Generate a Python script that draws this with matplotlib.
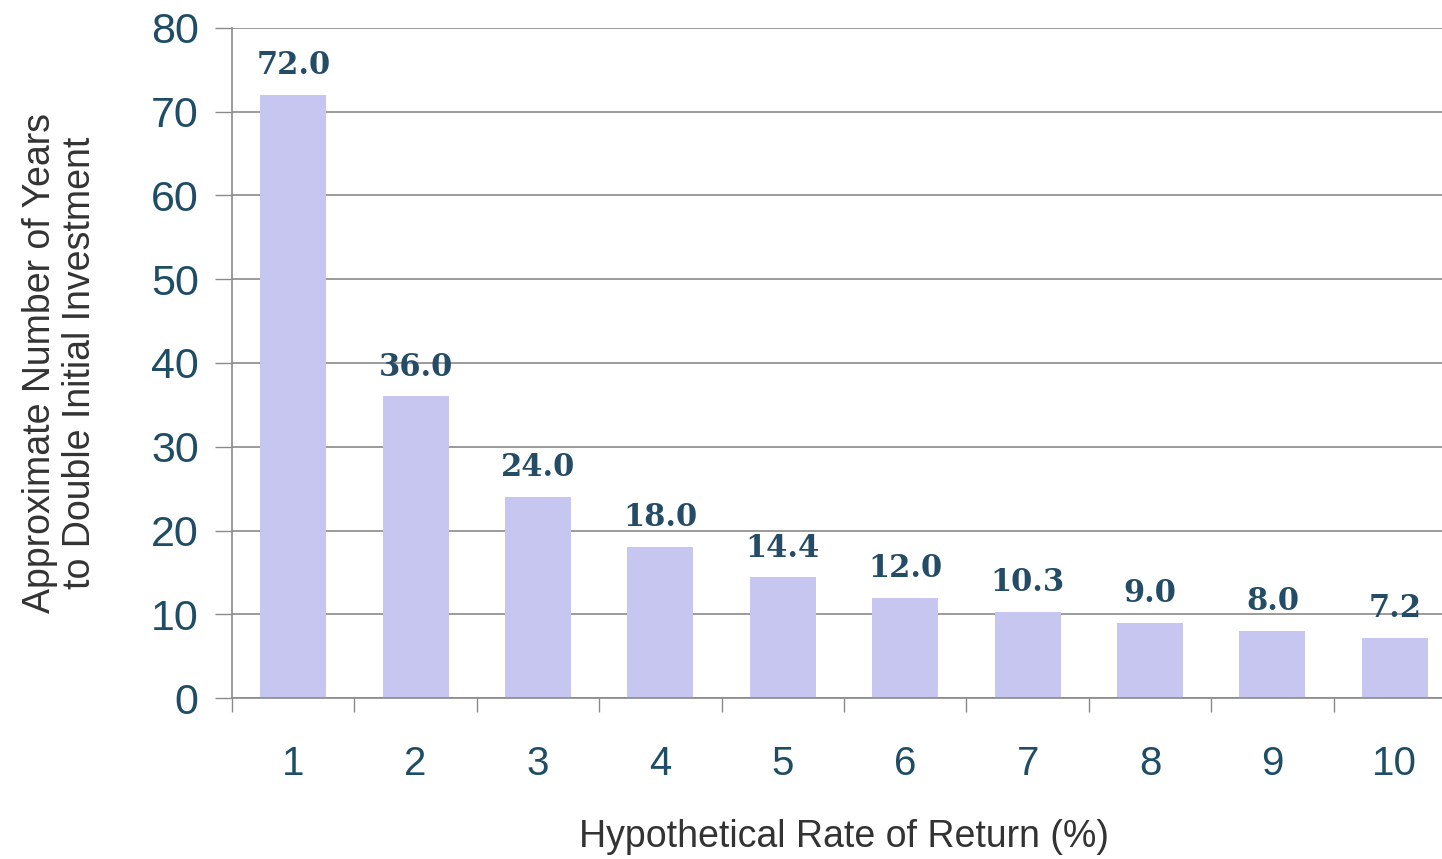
import matplotlib
matplotlib.use("Agg")
import matplotlib.pyplot as plt
import numpy as np

rates = [1, 2, 3, 4, 5, 6, 7, 8, 9, 10]
years = [72.0, 36.0, 24.0, 18.0, 14.4, 12.0, 10.3, 9.0, 8.0, 7.2]
value_labels = ["72.0", "36.0", "24.0", "18.0", "14.4", "12.0", "10.3", "9.0", "8.0", "7.2"]
yticks = [0, 10, 20, 30, 40, 50, 60, 70, 80]

plt.rcParams['font.family'] = ['Liberation Sans', 'DejaVu Sans']

W, H = 1442, 859
fig = plt.figure(figsize=(W / 100, H / 100), dpi=100)
left, right, top, bottom = 232, 1456, 28, 698
ax = fig.add_axes([left / W, (H - bottom) / H, (right - left) / W, (bottom - top) / H])

tick_color = "#1f4d66"
ax.bar(rates, years, width=0.54, color="#c6c6f0", zorder=2)

for x, y, lab in zip(rates, years, value_labels):
    ax.annotate(lab, (x, y), xytext=(0, 10), textcoords="offset points",
                ha="center", va="bottom", fontsize=22, fontweight="bold",
                family=["DejaVu Serif"], color="#244c66")

ax.set_xlim(0.5, 10.5)
ax.set_ylim(0, 80)
ax.set_yticks(yticks)
ax.set_xticks(rates)
ax.set_xticklabels([str(r) for r in rates])
ax.set_xticks(np.arange(0.5, 11, 1), minor=True)
ax.yaxis.grid(True, color="#8a8a8a", linewidth=1.2, zorder=0)
ax.set_axisbelow(True)

for s in ["top", "right"]:
    ax.spines[s].set_visible(False)
ax.spines["left"].set_color("#8a8a8a")
ax.spines["bottom"].set_color("#8a8a8a")
ax.spines["left"].set_linewidth(1.2)
ax.spines["bottom"].set_linewidth(1.2)

ax.tick_params(axis="y", labelsize=31, colors="#8a8a8a", labelcolor=tick_color,
               length=12, width=1, pad=12)
ax.tick_params(axis="x", which="major", labelsize=29, labelcolor=tick_color,
               length=0, pad=34)
ax.tick_params(axis="x", which="minor", length=10, width=1, colors="#8a8a8a")

ax.set_xlabel("Hypothetical Rate of Return (%)", fontsize=27, color="#333333", labelpad=26)
ax.set_ylabel("Approximate Number of Years\nto Double Initial Investment", fontsize=27,
              color="#333333", labelpad=38, linespacing=1.15)

fig.savefig("out.png", dpi=100)
